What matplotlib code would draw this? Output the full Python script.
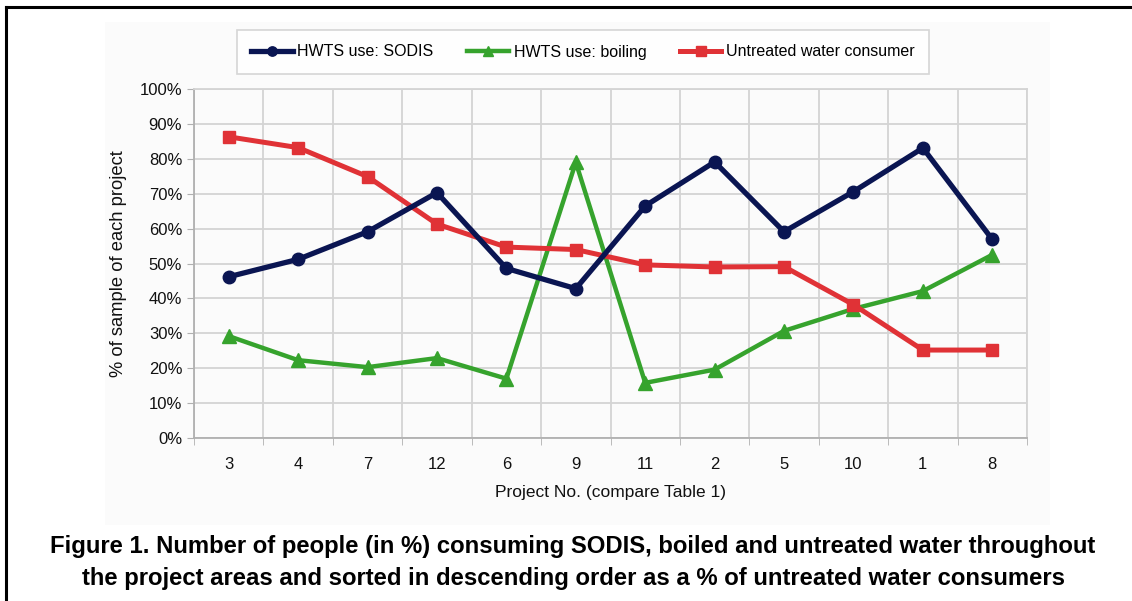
import matplotlib
matplotlib.use("Agg")
import matplotlib.pyplot as plt
from matplotlib.patches import Rectangle
from matplotlib.lines import Line2D
from matplotlib.ticker import FixedLocator, FuncFormatter

plt.rcParams['font.family'] = ['Liberation Sans', 'DejaVu Sans']

projects = ["3", "4", "7", "12", "6", "9", "11", "2", "5", "10", "1", "8"]
sodis = [46.2, 51.2, 59.1, 70.3, 48.6, 42.8, 66.5, 79.1, 59.1, 70.6, 83.1, 56.9]
boiling = [29.2, 22.3, 20.3, 22.9, 17.0, 79.0, 15.8, 19.6, 30.7, 37.0, 42.1, 52.5]
untreated = [86.3, 83.2, 74.9, 61.3, 54.7, 54.0, 49.6, 49.0, 49.1, 38.2, 25.2, 25.2]

fig = plt.figure(figsize=(11.32, 6.01), dpi=100)
W, H = 1132, 601

def fx(px):
    return px / W

def fy(py):
    return 1 - py / H

# chart area background
fig.patches.append(Rectangle((fx(105), fy(525)), fx(1050) - fx(105), fy(22) - fy(525),
                             transform=fig.transFigure, facecolor='#fbfbfb', edgecolor='none', zorder=-5))
# page border (left and top)
fig.lines.append(Line2D([fx(6), fx(6)], [0, fy(7)], transform=fig.transFigure, color='black', lw=2.2, zorder=-4))
fig.lines.append(Line2D([fx(6), 1], [fy(7), fy(7)], transform=fig.transFigure, color='black', lw=2.2, zorder=-4))

ax = fig.add_axes([fx(194), fy(438), fx(1027) - fx(194), fy(89) - fy(438)])
ax.set_facecolor('none')
x = list(range(len(projects)))

ax.plot(x, boiling, color='#36a32d', lw=3.2, marker='^', ms=10, zorder=3, label='HWTS use: boiling')
ax.plot(x, untreated, color='#e03236', lw=3.6, marker='s', ms=9, zorder=4, label='Untreated water consumer')
ax.plot(x, sodis, color='#0a1552', lw=3.8, marker='o', ms=9, zorder=5, label='HWTS use: SODIS')

ax.set_xlim(-0.5, len(projects) - 0.5)
ax.set_ylim(0, 100)
ax.set_yticks(range(0, 101, 10))
ax.yaxis.set_major_formatter(FuncFormatter(lambda v, p: f"{int(v)}%"))
ax.set_xticks(x)
ax.set_xticklabels(projects)
ax.xaxis.set_minor_locator(FixedLocator([i - 0.5 for i in range(len(projects) + 1)]))
ax.tick_params(axis='x', which='major', length=0, labelsize=12, pad=14, colors='#111111')
ax.tick_params(axis='x', which='minor', length=5, color='#b0b0b0')
ax.tick_params(axis='y', length=5, color='#b0b0b0', labelsize=12, colors='#111111')
ax.grid(True, axis='y', color='#d4d4d4', lw=1.3)
ax.grid(True, axis='x', which='minor', color='#d4d4d4', lw=1.3)
ax.set_axisbelow(True)
for side in ['top', 'right']:
    ax.spines[side].set_color('#d4d4d4')
    ax.spines[side].set_linewidth(1.3)
for side in ['left', 'bottom']:
    ax.spines[side].set_color('#b0b0b0')
    ax.spines[side].set_linewidth(1.3)

ax.set_ylabel('% of sample of each project', fontsize=13.2, labelpad=9, color='#111111')
ax.set_xlabel('Project No. (compare Table 1)', fontsize=12.5, labelpad=9, color='#111111')

h, l = ax.get_legend_handles_labels()
order = [2, 0, 1]
leg = fig.legend([h[i] for i in order], [l[i] for i in order], loc='center',
                 bbox_to_anchor=(fx(590), fy(52)), ncol=3, frameon=True, fancybox=False,
                 fontsize=11.5, handlelength=2.6, columnspacing=2.1, markerscale=0.75,
                 borderpad=0.9, handletextpad=0.3)
leg.get_frame().set_edgecolor('#cccccc')
leg.get_frame().set_linewidth(1.2)
leg.get_frame().set_facecolor('white')
leg._legend_box.sep = 0
leg.set_bbox_to_anchor((fx(583), fy(52)), transform=fig.transFigure)

fig.text(fx(573), fy(547), 'Figure 1. Number of people (in %) consuming SODIS, boiled and untreated water throughout',
         ha='center', va='center', fontsize=17.2, fontweight='bold')
fig.text(fx(573), fy(579), 'the project areas and sorted in descending order as a % of untreated water consumers',
         ha='center', va='center', fontsize=17.2, fontweight='bold')

fig.savefig('out.png', dpi=100)
